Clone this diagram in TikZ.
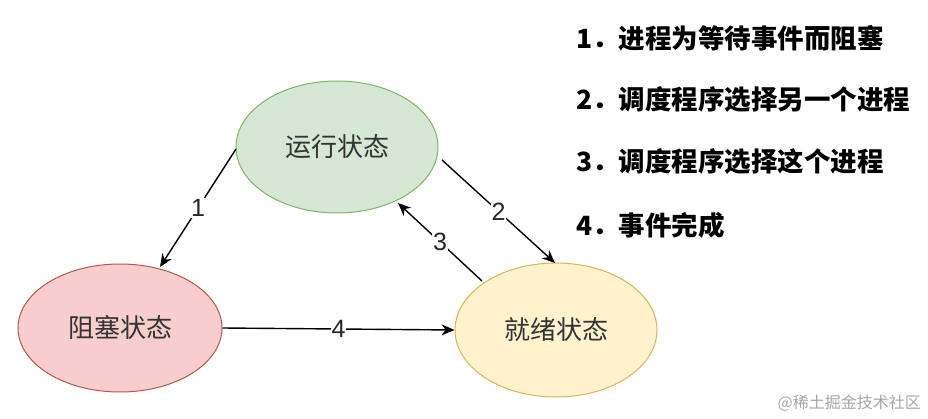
\documentclass[tikz,border=0pt]{standalone}
\usepackage{fontspec}
\setmainfont{Noto Sans CJK SC}
\newfontfamily\cjk{Noto Sans CJK SC}
\newfontfamily\lab{Liberation Sans}
\usetikzlibrary{arrows.meta}
\definecolor{gfill}{HTML}{D5E8D4}\definecolor{gdraw}{HTML}{82B366}
\definecolor{rfill}{HTML}{F8CECC}\definecolor{rdraw}{HTML}{B85450}
\definecolor{yfill}{HTML}{FFF2CC}\definecolor{ydraw}{HTML}{D6B656}
\tikzset{
  state/.style={ellipse, draw, line width=1pt, minimum width=202pt, minimum height=132pt, inner sep=0pt, font=\cjk\fontsize{26}{29}\selectfont, text=black!80},
  conn/.style={line width=1.4pt, -{Stealth[length=13pt,width=11pt]}},
  numlab/.style={fill=white, inner sep=1pt, font=\lab\fontsize{25}{28}\selectfont, text=black!85},
  item/.style={anchor=west, inner sep=0pt, font=\cjk\bfseries\fontsize{26.5}{30}\selectfont}
}
\usetikzlibrary{shapes.geometric}
\begin{document}
\begin{tikzpicture}[x=1pt,y=-1pt]
\useasboundingbox (0,0) rectangle (928,419);
\node[state, fill=gfill, draw=gdraw] (run) at (337,147) {运行状态};
\node[state, fill=rfill, draw=rdraw, minimum height=128pt, minimum width=204pt] (block) at (120,328) {阻塞状态};
\node[state, fill=yfill, draw=ydraw, minimum height=134pt] (ready) at (556,330) {就绪状态};
\coordinate (r1) at (236,149);
\coordinate (b1) at (160,267);
\coordinate (r2) at (442,160);
\coordinate (y2) at (555,263);
\coordinate (y3) at (482,281);
\coordinate (r3) at (398,203);
\draw[conn] (r1) -- node[numlab, pos=0.5] {1} (b1);
\draw[conn] (r2) -- node[numlab, pos=0.5] {2} (y2);
\draw[conn] (y3) -- node[numlab, pos=0.5] {3} (r3);
\draw[conn] (block.east) -- node[numlab, pos=0.5] {4} (ready.west);
\node[item] (i1) at (576,38) {1．进程为等待事件而阻塞};
\node[item] (i2) at (576,100) {2．调度程序选择另一个进程};
\node[item] (i3) at (576,162) {3．调度程序选择这个进程};
\node[item] (i4) at (576,225) {4．事件完成};
\node[anchor=east, inner sep=0pt, text=black!35, font=\cjk\fontsize{16}{18}\selectfont] (wm) at (921,403) {@稀土掘金技术社区};
\end{tikzpicture}
\end{document}
